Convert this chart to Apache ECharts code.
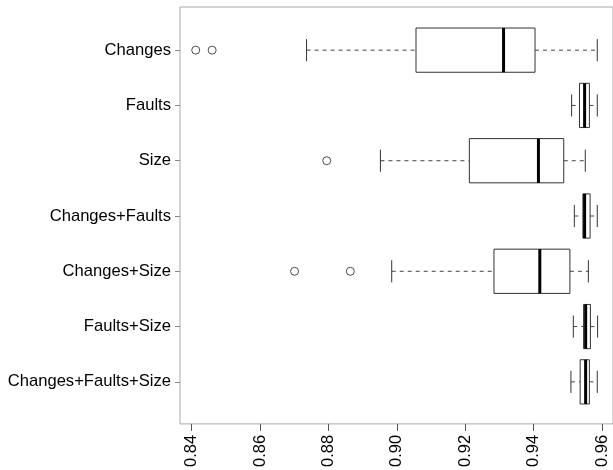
<!DOCTYPE html>
<html>
<head>
<meta charset="utf-8">
<script src="https://cdn.jsdelivr.net/npm/echarts@6/dist/echarts.min.js"></script>
<style>
html,body{margin:0;padding:0;background:#fff;}
#chart{width:613px;height:470px;}
</style>
</head>
<body>
<div id="chart"></div>
<script>
const categories = ['Changes','Faults','Size','Changes+Faults','Changes+Size','Faults+Size','Changes+Faults+Size'];
const whiskerLow  = [0.8736,0.9511,0.8952,0.9519,0.8985,0.9516,0.9509];
const q1          = [0.9056,0.9534,0.9212,0.9544,0.9284,0.9546,0.9536];
const median      = [0.9312,0.9549,0.9414,0.9549,0.9418,0.9552,0.9552];
const q3          = [0.9404,0.9563,0.9488,0.9565,0.9506,0.9566,0.9563];
const whiskerHigh = [0.9586,0.9586,0.9551,0.9586,0.9560,0.9587,0.9586];
const outlierCats = ['Changes','Changes','Size','Changes+Size','Changes+Size'];
const outlierVals = [0.8412,0.8460,0.8795,0.8701,0.8864];
const xTicks = [0.84,0.86,0.88,0.90,0.92,0.94,0.96];
const xMin = 0.8366, xMax = 0.9632;

const boxData = categories.map((c,i)=>[c, whiskerLow[i], q1[i], median[i], q3[i], whiskerHigh[i]]);
const outlierData = outlierCats.map((c,i)=>[outlierVals[i], c]);

function renderBox(params, api){
  const ci = api.value(0);
  const band = api.size([0,1])[1];
  const bh = band*0.8, cap = bh*0.5;
  const P = v => api.coord([v, ci]);
  const lo = P(api.value(1)), a = P(api.value(2)), m = P(api.value(3)), b = P(api.value(4)), hi = P(api.value(5));
  const y = lo[1];
  const dash = {stroke:'#444', lineWidth:1, lineDash:[4,4]};
  const solid = {stroke:'#333', lineWidth:1};
  return {type:'group', children:[
    {type:'line', shape:{x1:lo[0],y1:y,x2:a[0],y2:y}, style:dash},
    {type:'line', shape:{x1:b[0],y1:y,x2:hi[0],y2:y}, style:dash},
    {type:'line', shape:{x1:lo[0],y1:y-cap/2,x2:lo[0],y2:y+cap/2}, style:solid},
    {type:'line', shape:{x1:hi[0],y1:y-cap/2,x2:hi[0],y2:y+cap/2}, style:solid},
    {type:'rect', shape:{x:a[0],y:y-bh/2,width:b[0]-a[0],height:bh}, style:{fill:'#fff',stroke:'#333',lineWidth:1}},
    {type:'line', shape:{x1:m[0],y1:y-bh/2,x2:m[0],y2:y+bh/2}, style:{stroke:'#000',lineWidth:3}}
  ]};
}

const chart = echarts.init(document.getElementById('chart'));
chart.setOption({
  animation:false,
  backgroundColor:'#fff',
  textStyle:{fontFamily:'Liberation Sans, Arial, sans-serif'},
  grid:[
    {left:180, width:436, top:22.5, height:387, show:false},
    {left:180, width:436, top:7, height:418, show:true, borderColor:'#aaa', borderWidth:1, backgroundColor:'transparent'}
  ],
  xAxis:[
    {gridIndex:0, type:'value', min:xMin, max:xMax, show:false},
    {gridIndex:1, type:'value', min:xMin, max:xMax,
     axisLine:{show:false}, splitLine:{show:false},
     axisTick:{show:true, length:7, lineStyle:{color:'#555'}, customValues:xTicks},
     axisLabel:{show:true, rotate:90, fontSize:16.5, color:'#000', margin:11, customValues:xTicks,
       formatter:v=>v.toFixed(2), fontFamily:'Liberation Sans, Arial, sans-serif'}}
  ],
  yAxis:[
    {gridIndex:0, type:'category', data:categories, inverse:true,
     axisLine:{show:false}, splitLine:{show:false},
     axisTick:{show:true, length:5, alignWithLabel:true, lineStyle:{color:'#888'}},
     axisLabel:{fontSize:16.6, color:'#000', margin:9, fontFamily:'Liberation Sans, Arial, sans-serif'}},
    {gridIndex:1, type:'value', show:false, min:0, max:1}
  ],
  series:[
    {type:'custom', xAxisIndex:0, yAxisIndex:0, data:boxData, renderItem:renderBox,
     encode:{y:0, x:[1,2,3,4,5]}},
    {type:'scatter', xAxisIndex:0, yAxisIndex:0, data:outlierData, symbol:'circle', symbolSize:8,
     itemStyle:{color:'#fff', borderColor:'#222', borderWidth:1}}
  ]
});
</script>
</body>
</html>
